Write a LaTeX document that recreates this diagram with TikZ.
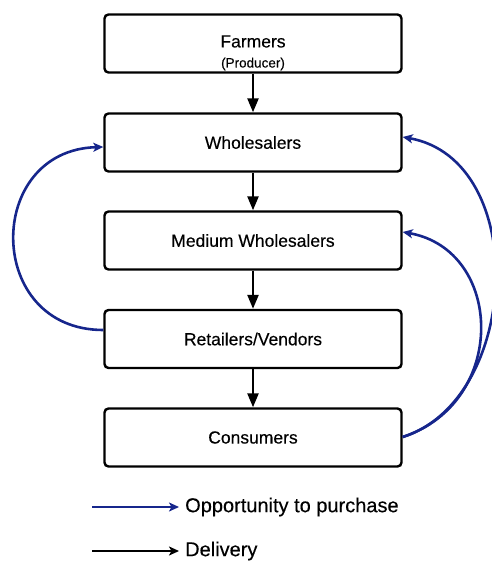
\documentclass[tikz,border=0pt]{standalone}
\usepackage{fontspec}
\setmainfont[FakeBold=0.3]{Liberation Sans}
\usetikzlibrary{arrows.meta}
\definecolor{chainblue}{RGB}{22,38,140}
\begin{document}
\begin{tikzpicture}[x=1pt,y=-1pt,
  stage/.style={draw=black, line width=2.4pt, rounded corners=4pt,
    minimum width=297pt, minimum height=58pt, inner sep=0pt,
    font=\fontsize{17.5}{20}\selectfont},
  txt/.style={inner sep=0pt, font=\fontsize{17.5}{20}\selectfont},
  delivery/.style={draw=black, line width=2.4pt,
    -{Triangle[length=14pt,width=11pt]}},
  purchase/.style={draw=chainblue, line width=2.6pt,
    -{Stealth[length=10pt,width=9pt,inset=2.5pt]}},
  legtxt/.style={anchor=west, inner sep=0pt,
    font=\fontsize{20}{22}\selectfont}]
\useasboundingbox (0,0) rectangle (492,562);

% supply chain stages
\node[stage] (farm)  at (253,43.5)  {};
\node[txt]   (farmname) at (253,41.5) {Farmers};
\node[inner sep=0pt, font=\fontsize{13.5}{15}\selectfont] (farmsub) at (253,64) {(Producer)};
\node[stage] (whole) at (253,142.5) {Wholesalers};
\node[stage] (med)   at (253,240.5) {Medium Wholesalers};
\node[stage] (ret)   at (253,339)   {Retailers/Vendors};
\node[stage] (cons)  at (253,437.5) {Consumers};

% delivery flow
\draw[delivery] (farm.south) -- (whole.north);
\draw[delivery] (whole.south) -- (med.north);
\draw[delivery] (med.south) -- (ret.north);
\draw[delivery] (ret.south) -- (cons.north);

% purchase opportunities
\draw[purchase] ([yshift=9pt]ret.west)
  .. controls +(-119,0) and +(-119,3) .. ([yshift=-4.5pt]whole.west);
\draw[purchase] ([yshift=0.5pt]cons.east)
  .. controls +(106,-35) and +(101,18) .. ([yshift=8.5pt]med.east);
\draw[purchase] ([yshift=0.5pt]cons.east)
  .. controls +(118,-37) and +(128,23) .. ([yshift=5.5pt]whole.east);

% legend
\coordinate (lega) at (92,507);
\node[legtxt] (legatext) at (185,507) {Opportunity to purchase};
\draw[purchase] (lega) -- ([xshift=-6pt]legatext.west);
\coordinate (legb) at (92,551);
\node[legtxt] (legbtext) at (185,551) {Delivery};
\draw[draw=black, line width=2.6pt, -{Stealth[length=10pt,width=9pt,inset=2.5pt]}] (legb) -- ([xshift=-6pt]legbtext.west);
\end{tikzpicture}
\end{document}
